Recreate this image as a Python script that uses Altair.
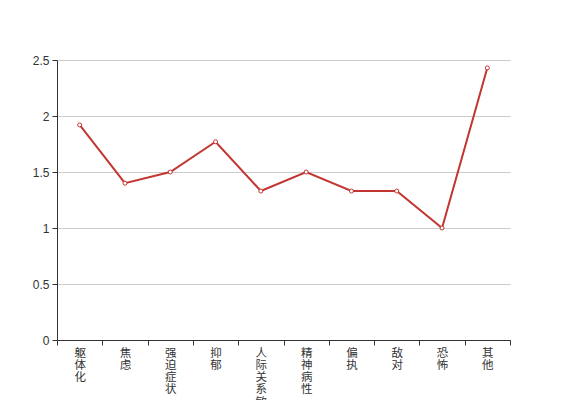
import altair as alt
import pandas as pd

categories = ["躯体化", "焦虑", "强迫症状", "抑郁", "人际关系敏感", "精神病性", "偏执", "敌对", "恐怖", "其他"]
values = [1.92, 1.40, 1.50, 1.77, 1.33, 1.50, 1.33, 1.33, 1.00, 2.43]

df = pd.DataFrame({"cat": categories, "val": values})

FONT = "Liberation Sans, Noto Sans CJK SC, sans-serif"
CJK = "Noto Sans CJK SC"
RED = "#c23531"

x = alt.X(
    "cat:N",
    sort=categories,
    bandPosition=0.5,
    scale=alt.Scale(type="band", paddingInner=0, paddingOuter=0),
    axis=alt.Axis(
        title=None,
        labelAngle=0,
        labelExpr="split(datum.label, '')",
        labelLineHeight=12.3,
        labelBaseline="top",
        labelFontSize=11.5,
        labelFont=CJK,
        labelColor="#333",
        labelPadding=2,
        tickBand="extent",
        tickSize=5,
        tickColor="#333",
        domainColor="#333",
        grid=False,
    ),
)
y = alt.Y(
    "val:Q",
    scale=alt.Scale(domain=[0, 2.5], nice=False),
    axis=alt.Axis(
        title=None,
        values=[0, 0.5, 1, 1.5, 2, 2.5],
        format="~g",
        labelFontSize=12,
        labelFont=FONT,
        labelColor="#333",
        labelPadding=3,
        tickSize=5,
        tickColor="#333",
        domainColor="#333",
        gridColor="#ccc",
        grid=True,
    ),
)

line = alt.Chart(df).mark_line(color=RED, strokeWidth=2).encode(x=x, y=y)
pts = alt.Chart(df).mark_point(
    shape="circle", filled=True, fill="white", stroke=RED, strokeWidth=1, size=16, opacity=1
).encode(x=x, y=y)

chart = (
    alt.layer(line, pts)
    .properties(
        width=453,
        height=280,
        autosize=alt.AutoSizeParams(type="none"),
        padding={"left": 49, "top": 52, "right": 49, "bottom": 70},
    )
    .configure_view(stroke=None)
)

chart.save("out.html", embed_options={"renderer": "svg", "actions": False})
